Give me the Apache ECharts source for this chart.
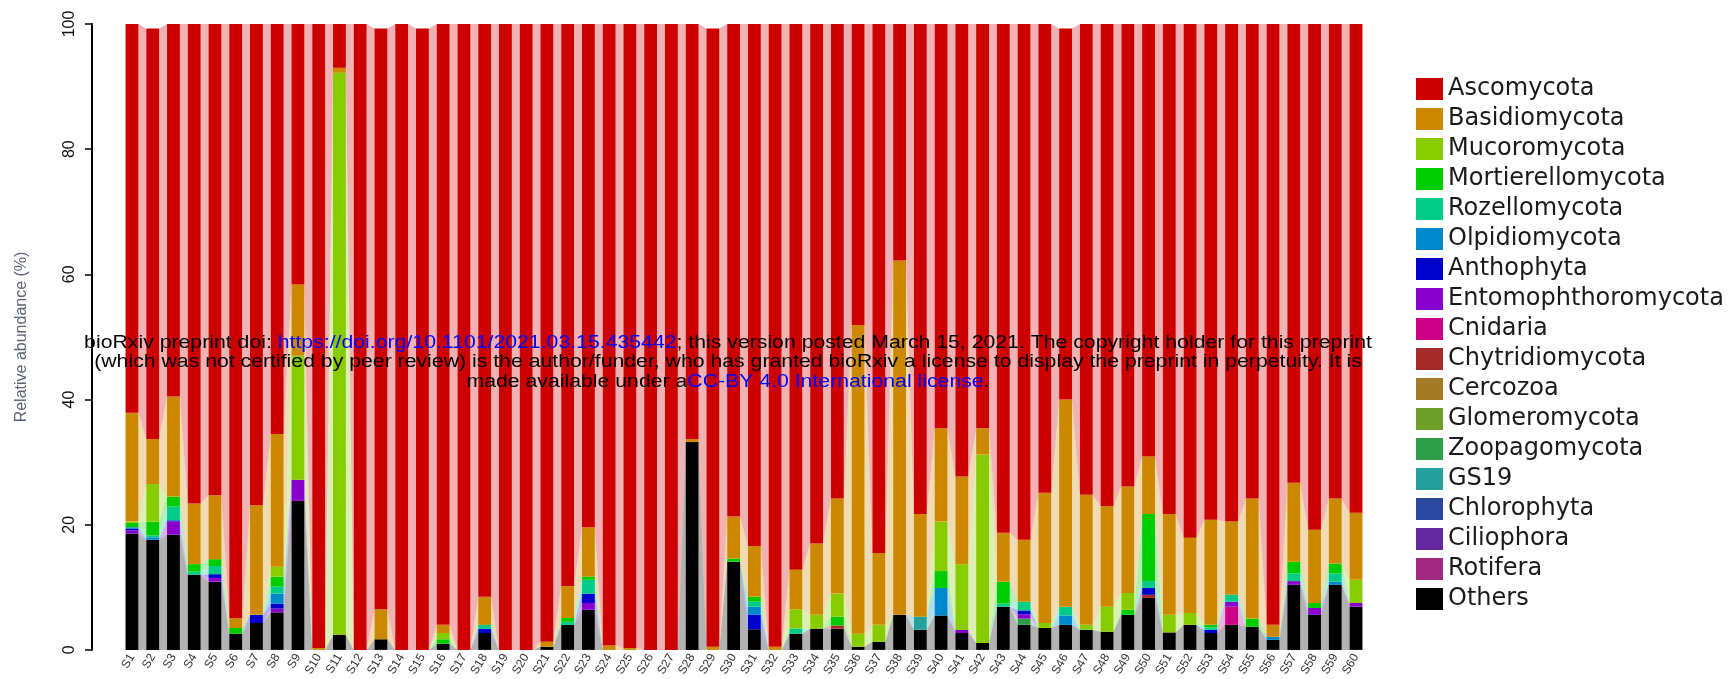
<!DOCTYPE html>
<html>
<head>
<meta charset="utf-8">
<script src="https://cdn.jsdelivr.net/npm/echarts@6/dist/echarts.min.js"></script>
<style>
  html, body { margin: 0; padding: 0; background: #ffffff; }
  #chart { width: 1732px; height: 679px; }
</style>
</head>
<body>
<div id="chart"></div>
<script>
// ---- sample names (x axis) ----
const samples = [
  'S1','S2','S3','S4','S5','S6','S7','S8','S9','S10',
  'S11','S12','S13','S14','S15','S16','S17','S18','S19','S20',
  'S21','S22','S23','S24','S25','S26','S27','S28','S29','S30',
  'S31','S32','S33','S34','S35','S36','S37','S38','S39','S40',
  'S41','S42','S43','S44','S45','S46','S47','S48','S49','S50',
  'S51','S52','S53','S54','S55','S56','S57','S58','S59','S60'
];

// ---- relative abundance (%) per phylum, one value per sample ----
const others = [18.6,17.6,18.4,12.0,10.9,2.6,4.3,6.0,23.8,0, 2.4,0,1.7,0,0,1.0,0,2.7,0,0, 0.5,4.0,6.4,0,0,0,0,33.2,0,14.1, 3.3,0,2.6,3.4,3.4,0.5,1.3,5.6,3.2,5.5, 2.7,1.1,6.9,4.0,3.5,4.0,3.2,2.9,5.6,8.3, 2.8,4.0,2.7,4.0,3.7,1.6,10.4,5.6,10.4,6.9];
const rotifera = [0,0,0,0,0,0,0,0,0,0, 0,0,0,0,0,0,0,0,0,0, 0,0,0,0,0,0,0,0,0,0, 0,0,0,0,0,0,0,0,0,0, 0,0,0,0,0,0,0,0,0,0, 0,0,0,0,0,0,0,0,0,0];
const ciliophora = [0,0,0,0,0,0,0,0,0,0, 0,0,0,0,0,0,0,0,0,0, 0,0,0,0,0,0,0,0,0,0, 0,0,0,0,0,0,0,0,0,0, 0,0,0,0,0,0,0,0,0,0, 0,0,0,0,0,0,0,0,0,0];
const chlorophyta = [0,0,0,0,0,0,0,0,0,0, 0,0,0,0,0,0,0,0,0,0, 0,0,0,0,0,0,0,0,0,0, 0,0,0,0,0,0,0,0,0,0, 0,0,0,0,0,0,0,0,0,0, 0,0,0,0,0,0,0,0,0,0];
const gs19 = [0,0,0,0,0,0,0,0,0,0, 0,0,0,0,0,0,0,0,0,0, 0,0,0,0,0,0,0,0,0,0, 0,0,0,0,0,0,0,0,2.1,0, 0,0,0,0,0,0,0,0,0,0, 0,0,0,0,0,0,0,0,0,0];
const zoopagomycota = [0,0,0,0,0,0,0,0,0,0, 0,0,0,0,0,0,0,0,0,0, 0,0,0,0,0,0,0,0,0,0, 0,0,0,0,0,0,0,0,0,0, 0,0,0,1.0,0,0,0,0,0,0, 0,0,0,0,0,0,0,0,0,0];
const glomeromycota = [0,0,0,0,0,0,0,0,0,0, 0,0,0,0,0,0,0,0,0,0, 0,0,0,0,0,0,0,0,0,0, 0,0,0,0,0,0,0,0,0,0, 0,0,0,0,0,0,0,0,0,0, 0,0,0,0,0,0,0,0,0,0];
const cercozoa = [0,0,0,0,0,0,0,0,0,0, 0,0,0,0,0,0,0,0,0,0, 0,0,0,0,0,0,0,0,0,0, 0,0,0,0,0,0,0,0,0,0, 0,0,0,0,0,0,0,0,0,0, 0,0,0,0,0,0,0,0,0,0];
const chytridiomycota = [0,0,0,0,0,0,0,0,0,0, 0,0,0,0,0,0,0,0,0,0, 0,0,0,0,0,0,0,0,0,0, 0,0,0,0,0.5,0,0,0,0,0, 0,0,0,0,0,0,0,0,0,0.5, 0,0,0,0,0,0,0,0,0,0];
const cnidaria = [0,0,0,0,0,0,0,0,0,0, 0,0,0,0,0,0,0,0,0,0, 0,0,0,0,0,0,0,0,0,0, 0,0,0,0,0,0,0,0,0,0, 0,0,0,0,0,0,0,0,0,0, 0,0,0,2.9,0,0,0,0,0,0];
const entomophthoromycota = [0.5,0,2.1,0,0.6,0,0,0.6,3.4,0, 0,0,0,0,0,0,0,0,0,0, 0,0,1.1,0,0,0,0,0,0,0, 0,0,0,0,0,0,0,0,0,0, 0.5,0,0,0.7,0,0,0,0,0,0, 0,0,0,0.8,0,0,0.6,1.1,0,0.6];
const anthophyta = [0.3,0,0.2,0,0.6,0,1.3,0.8,0,0, 0,0,0,0,0,0,0,0.7,0,0, 0,0,1.5,0,0,0,0,0,0,0, 2.3,0,0,0,0,0,0,0,0,0, 0,0,0,0.6,0,0,0,0,0,1.1, 0,0,0.5,0,0,0,0,0,0,0];
const olpidiomycota = [0.2,0.4,0,0,0,0,0,1.6,0,0, 0,0,0,0,0,0,0,0,0,0, 0,0,0,0,0,0,0,0,0,0, 1.3,0,0,0,0,0,0,0,0,4.4, 0,0,0,0,0,1.5,0,0,0,0, 0,0,0,0,0,0.5,0,0,0.5,0];
const rozellomycota = [0,0.3,2.2,0.5,1.3,0,0,1.1,0,0, 0,0,0,0,0,0,0,0.6,0,0, 0,0.5,2.2,0,0,0,0,0,0,0, 0.8,0,0.8,0,0,0,0,0,0,0, 0,0,0.5,1.4,0,1.4,0,0,0,1.1, 0,0,0.4,1.1,0,0,1.2,0,1.3,0];
const mortierellomycota = [0.7,2.2,1.6,1.2,1.1,0.9,0,1.6,0,0, 0,0,0,0,0,0.7,0,0,0,0, 0,0.6,0.5,0,0,0,0,0,0,0.5, 0.8,0,0,0,1.4,0,0,0,0,2.7, 0,0,3.5,0,0,0,0,0,0.8,10.7, 0,0,0.4,0,1.3,0,1.9,0.8,1.6,0];
const mucoromycota = [0.2,6.0,0,0,0,0,0,1.6,19.8,0, 89.8,0,0,0,0,1.0,0,0,0,0, 0,0,0,0,0,0,0,0,0,0, 0,0,3.1,2.2,3.7,2.1,2.7,0,0,7.9, 10.5,30.1,0,0,0.8,0,0.8,4.0,2.7,0, 2.8,1.9,0,0,0,0,0,0,0,3.7];
const basidiomycota = [17.4,7.2,16.0,9.7,10.2,1.6,17.5,21.2,11.4,0.3, 0.8,0,4.8,0,0,1.3,0,4.5,0,0, 0.8,5.1,7.9,0.7,0.3,0,0,0.5,0.5,6.7, 8.1,0.5,6.3,11.4,15.2,49.3,11.5,56.6,16.4,14.9, 14.0,4.2,7.8,9.9,20.8,33.1,20.8,16.1,17.0,9.2, 16.1,12.0,16.8,11.7,19.2,1.9,12.6,11.7,10.4,10.7];
const ascomycota = [62.1,65.6,59.5,76.6,75.3,94.9,76.9,65.5,41.6,99.7, 7.0,100,92.8,100,99.3,96.0,100,91.5,100,100, 98.7,89.8,80.4,99.3,99.7,100,100,66.3,98.8,78.7, 83.4,99.5,87.2,83.0,75.8,48.1,84.5,37.8,78.3,64.6, 72.3,64.6,81.3,82.4,74.9,59.3,75.2,77.0,73.9,69.1, 78.3,82.1,79.2,79.5,75.8,96.0,73.3,80.8,75.8,78.1];

// ---- y axis ticks ----
const yTicks = [0, 20, 40, 60, 80, 100];

// Stack order, bottom to top
const phyla = [
  { name: 'Others',              color: '#000000', values: others },
  { name: 'Rotifera',            color: '#A0287E', values: rotifera },
  { name: 'Ciliophora',          color: '#6428A0', values: ciliophora },
  { name: 'Chlorophyta',         color: '#2A48A0', values: chlorophyta },
  { name: 'GS19',                color: '#26A09C', values: gs19 },
  { name: 'Zoopagomycota',       color: '#2E9E48', values: zoopagomycota },
  { name: 'Glomeromycota',       color: '#6C9E2A', values: glomeromycota },
  { name: 'Cercozoa',            color: '#A37A26', values: cercozoa },
  { name: 'Chytridiomycota',     color: '#A52A2A', values: chytridiomycota },
  { name: 'Cnidaria',            color: '#CC0088', values: cnidaria },
  { name: 'Entomophthoromycota', color: '#8800CC', values: entomophthoromycota },
  { name: 'Anthophyta',          color: '#0000CC', values: anthophyta },
  { name: 'Olpidiomycota',       color: '#0088CC', values: olpidiomycota },
  { name: 'Rozellomycota',       color: '#00CC88', values: rozellomycota },
  { name: 'Mortierellomycota',   color: '#00CC00', values: mortierellomycota },
  { name: 'Mucoromycota',        color: '#88CC00', values: mucoromycota },
  { name: 'Basidiomycota',       color: '#CC8800', values: basidiomycota },
  { name: 'Ascomycota',          color: '#CC0000', values: ascomycota }
];

const BAR_FRACTION = 0.62;   // bar width relative to the category band
const FLOW_ALPHA = 0.3;      // opacity of the ribbons joining neighbouring bars

// lower / upper bound of every stacked segment
const lower = [], upper = [];
const running = samples.map(() => 0);
phyla.forEach((p, k) => {
  lower[k] = running.slice();
  p.values.forEach((v, i) => { running[i] += v; });
  upper[k] = running.slice();
});

function hexToRgba(hex, a) {
  const n = parseInt(hex.slice(1), 16);
  return 'rgba(' + (n >> 16 & 255) + ',' + (n >> 8 & 255) + ',' + (n & 255) + ',' + a + ')';
}

// ribbons between bar i and bar i+1, one per phylum
const flowItems = [];
for (let i = 0; i < samples.length - 1; i++) {
  phyla.forEach((p, k) => {
    if (p.values[i] > 0 || p.values[i + 1] > 0) flowItems.push([i, k]);
  });
}

function renderFlow(params, api) {
  const i = api.value(0);
  const k = api.value(1);
  const hw = api.size([1, 0])[0] * BAR_FRACTION / 2;
  const a0 = api.coord([i, lower[k][i]]);
  const a1 = api.coord([i, upper[k][i]]);
  const b0 = api.coord([i + 1, lower[k][i + 1]]);
  const b1 = api.coord([i + 1, upper[k][i + 1]]);
  return {
    type: 'polygon',
    silent: true,
    shape: { points: [[a0[0] + hw, a0[1]], [a1[0] + hw, a1[1]], [b1[0] - hw, b1[1]], [b0[0] - hw, b0[1]]] },
    style: { fill: hexToRgba(phyla[k].color, FLOW_ALPHA), stroke: null }
  };
}

const barSeries = phyla.map(p => ({
  name: p.name,
  type: 'bar',
  stack: 'total',
  barWidth: (BAR_FRACTION * 100) + '%',
  data: p.values,
  itemStyle: { color: p.color },
  emphasis: { disabled: true },
  z: 3
}));

// preprint notice printed across the plot
const noteFont = 'Liberation Sans';
const noteText =
  '{k|bioRxiv preprint doi: }{u|https://doi.org/10.1101/2021.03.15.435442}{k|; this version posted March 15, 2021. The copyright holder for this preprint}\n' +
  '{k|(which was not certified by peer review) is the author/funder, who has granted bioRxiv a license to display the preprint in perpetuity. It is}\n' +
  '{k|made available under a}{u|CC-BY 4.0 International license}{k|.}';
const noteRich = {
  k: { fill: '#000000', fontSize: 18, fontFamily: noteFont, fontWeight: 'normal', lineHeight: 19.5, align: 'center' },
  u: { fill: '#0000FF', fontSize: 18, fontFamily: noteFont, fontWeight: 'normal', lineHeight: 19.5, align: 'center' }
};

const chart = echarts.init(document.getElementById('chart'), null, { renderer: 'canvas' });
chart.setOption({
  animation: false,
  backgroundColor: '#ffffff',
  graphic: [{
    type: 'text',
    x: 728,
    y: 333,
    scaleX: 1.18,
    z: 100,
    silent: true,
    style: {
      text: noteText,
      rich: noteRich,
      fill: '#000000',
      font: '18px "Liberation Sans"',
      align: 'center',
      textAlign: 'center',
      verticalAlign: 'top',
      textVerticalAlign: 'top'
    }
  }],
  legend: {
    data: phyla.map(p => p.name).reverse(),
    orient: 'vertical',
    left: 1411,
    top: 72,
    icon: 'rect',
    itemWidth: 27,
    itemHeight: 22,
    itemGap: 6.0,
    selectedMode: false,
    textStyle: { fontSize: 24, fontFamily: 'DejaVu Sans', color: '#1a1a1a', lineHeight: 22 }
  },
  grid: { left: 121.6, right: 365.6, top: 24, bottom: 29, containLabel: false },
  xAxis: {
    type: 'category',
    data: samples,
    boundaryGap: true,
    axisLine: { show: false },
    axisTick: { show: false },
    axisLabel: { rotate: 60, fontSize: 12, color: '#333333', fontFamily: 'Liberation Sans', margin: 5, interval: 0 }
  },
  yAxis: {
    type: 'value',
    min: yTicks[0],
    max: yTicks[yTicks.length - 1],
    interval: yTicks[1] - yTicks[0],
    offset: 29.6,
    name: 'Relative abundance (%)',
    nameLocation: 'middle',
    nameRotate: 90,
    nameGap: 62,
    nameTextStyle: { fontSize: 16, color: '#5a6478', fontFamily: 'Liberation Sans' },
    axisLine: { show: true, lineStyle: { color: '#000000', width: 2 } },
    axisTick: { show: true, length: 7, lineStyle: { color: '#000000', width: 1.5 } },
    axisLabel: { rotate: 90, fontSize: 16, color: '#111111', fontFamily: 'Liberation Sans', margin: 14 },
    splitLine: { show: false }
  },
  series: [
    {
      type: 'custom',
      name: 'flows',
      renderItem: renderFlow,
      data: flowItems,
      encode: { x: 0, y: 1 },
      silent: true,
      z: 1
    }
  ].concat(barSeries)
});
</script>
</body>
</html>
